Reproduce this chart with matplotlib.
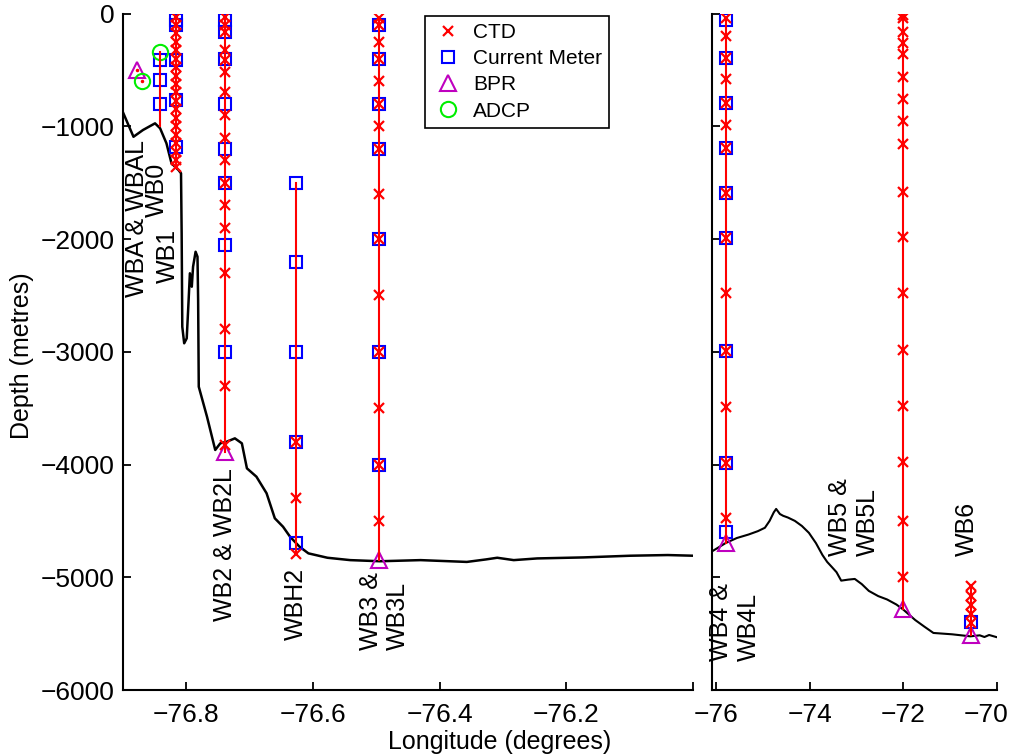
import numpy as np
import matplotlib.pyplot as plt
from matplotlib.transforms import ScaledTranslation

plt.rcParams['font.family'] = ['Liberation Sans', 'DejaVu Sans']

# bathymetry, western panel (longitude, depth in m)
bath_w_lon = [-76.900, -76.883, -76.868, -76.849, -76.841, -76.831, -76.823, -76.812,
              -76.808, -76.807, -76.806, -76.803, -76.799, -76.796, -76.794, -76.791,
              -76.789, -76.785, -76.782, -76.781, -76.780, -76.767, -76.754, -76.746,
              -76.736, -76.723, -76.712, -76.704, -76.689, -76.673, -76.660, -76.647,
              -76.636, -76.621, -76.607, -76.577, -76.541, -76.494, -76.430, -76.357,
              -76.327, -76.309, -76.283, -76.246, -76.173, -76.099, -76.040, -76.000]
bath_w_dep = [-871, -1093, -1033, -974, -1018, -1151, -1329, -1388,
              -1417, -1949, -2778, -2925, -2881, -2541, -2304, -2423,
              -2246, -2113, -2157, -2541, -3310, -3576, -3871, -3812,
              -3798, -3768, -3812, -4034, -4108, -4255, -4477, -4552,
              -4640, -4729, -4788, -4827, -4848, -4858, -4848, -4864,
              -4842, -4827, -4848, -4833, -4824, -4809, -4803, -4809]

# bathymetry, eastern panel
bath_e_lon = [-76.10, -75.80, -75.56, -75.31, -75.11, -74.96, -74.86, -74.77, -74.72,
              -74.64, -74.57, -74.47, -74.32, -74.17, -74.02, -73.87, -73.73, -73.63,
              -73.53, -73.43, -73.33, -73.18, -73.04, -72.89, -72.74, -72.54, -72.35,
              -72.15, -72.00, -71.75, -71.55, -71.36, -70.96, -70.57, -70.37, -70.27,
              -70.17, -70.02]
bath_e_dep = [-4773, -4697, -4652, -4621, -4591, -4561, -4500, -4424, -4394,
              -4439, -4455, -4470, -4500, -4545, -4606, -4697, -4803, -4864,
              -4909, -4955, -5030, -5021, -5015, -5061, -5121, -5167, -5197,
              -5242, -5288, -5379, -5439, -5494, -5506, -5524, -5515, -5530,
              -5512, -5530]

# moorings
wba_lon, wba_bpr = -76.878, [-500]
wbal_lon, wbal_adcp = -76.869, [-600]

wb0_lon = -76.841
wb0_cm = [-410, -590, -800]
wb0_adcp = [-345]
wb0_anchor = -1000

wb1_lon = -76.816
wb1_ctd = [-30, -100, -175, -250, -325, -400, -475, -550, -625, -700, -775, -850,
           -925, -1000, -1075, -1150, -1225, -1300, -1360]
wb1_cm = [-60, -100, -410, -770, -1180]

wb2_lon = -76.739
wb2_ctd = [-30, -100, -160, -320, -410, -520, -700, -900, -1100, -1300, -1500,
           -1700, -1900, -2300, -2800, -3300, -3830]
wb2_cm = [-60, -160, -400, -800, -1200, -1500, -2050, -3000]
wb2_bpr = [-3890]

wbh2_lon = -76.626
wbh2_ctd = [-3800, -4300, -4790]
wbh2_cm = [-1500, -2200, -3000, -3800, -4700]

wb3_lon = -76.495
wb3_ctd = [-40, -100, -250, -400, -600, -800, -1000, -1200, -1600, -2000, -2500,
           -3000, -3500, -4000, -4500]
wb3_cm = [-100, -400, -800, -1200, -2000, -3000, -4000]
wb3_bpr = [-4850]

wb4_lon = -75.80
wb4_ctd = [-40, -200, -390, -580, -790, -990, -1190, -1590, -1990, -2480, -2990,
           -3490, -3990, -4470]
wb4_cm = [-60, -390, -790, -1190, -1590, -1990, -2990, -3990, -4600]
wb4_bpr = [-4700]

wb5_lon = -72.00
wb5_ctd = [-10, -40, -160, -260, -360, -560, -760, -950, -1160, -1580, -1980,
           -2480, -2980, -3480, -3980, -4500, -5000]
wb5_bpr = [-5280]

wb6_lon = -70.55
wb6_ctd = [-5080, -5170, -5250, -5330, -5410]
wb6_cm = [-5400]
wb6_bpr = [-5510]


def mooring(ax, lon, ctd=(), cm=(), bpr=(), adcp=(), anchor=None):
    deps = list(ctd) + list(cm) + list(bpr) + list(adcp)
    bottom = min(deps) if anchor is None else anchor
    if len(cm):
        ax.plot([lon] * len(cm), cm, 's', mec='b', mfc='none', ms=9, mew=1.5, zorder=2)
    if len(bpr):
        ax.plot([lon] * len(bpr), bpr, '^', mec='m', mfc='none', ms=12, mew=1.5, zorder=3)
    if len(adcp):
        ax.plot([lon] * len(adcp), adcp, 'o', mec='#00ee00', mfc='none', ms=11, mew=1.5, zorder=3)
    if max(deps) > bottom:
        ax.plot([lon, lon], [max(deps), bottom], 'r-', lw=1.5, zorder=4)
    else:
        ax.plot([lon], deps, 'r.', ms=3, zorder=4)
    if len(ctd):
        ax.plot([lon] * len(ctd), ctd, 'rx', ms=7, mew=1.6, zorder=5)


fig = plt.figure(figsize=(10.1, 7.56), dpi=100)
ax1 = fig.add_axes([0.1215, 0.0873, 0.5647, 0.8948])
ax2 = fig.add_axes([0.7045, 0.0873, 0.2827, 0.8948])

ax1.plot(bath_w_lon, bath_w_dep, 'k-', lw=1.8, zorder=1)
ax2.plot(bath_e_lon, bath_e_dep, 'k-', lw=1.5, zorder=1)

mooring(ax1, wba_lon, bpr=wba_bpr)
mooring(ax1, wbal_lon, adcp=wbal_adcp)
mooring(ax1, wb0_lon, cm=wb0_cm, adcp=wb0_adcp, anchor=wb0_anchor)
mooring(ax1, wb1_lon, ctd=wb1_ctd, cm=wb1_cm)
mooring(ax1, wb2_lon, ctd=wb2_ctd, cm=wb2_cm, bpr=wb2_bpr)
mooring(ax1, wbh2_lon, ctd=wbh2_ctd, cm=wbh2_cm)
mooring(ax1, wb3_lon, ctd=wb3_ctd, cm=wb3_cm, bpr=wb3_bpr)
mooring(ax2, wb4_lon, ctd=wb4_ctd, cm=wb4_cm, bpr=wb4_bpr)
mooring(ax2, wb5_lon, ctd=wb5_ctd, bpr=wb5_bpr)
mooring(ax2, wb6_lon, ctd=wb6_ctd, cm=wb6_cm, bpr=wb6_bpr)

lab = dict(rotation=90, ha='center', va='bottom', fontsize=18, multialignment='left')
ax1.text(-76.877, -2514, 'WBA & WBAL', **lab)
ax1.text(-76.846, -1805, 'WB0', **lab)
ax1.text(-76.829, -2390, 'WB1', **lab)
ax1.text(wb2_lon, -5384, 'WB2 & WB2L', **lab)
ax1.text(wbh2_lon, -5556, 'WBH2', **lab)
ax1.text(-76.487, -5645, 'WB3 &\nWB3L', **lab)
ax2.text(-75.60, -5740, 'WB4 &\nWB4L', **lab)
ax2.text(-73.05, -4810, 'WB5 &\nWB5L', **lab)
ax2.text(-70.64, -4810, 'WB6', **lab)

# legend
h_ctd, = ax1.plot([], [], 'rx', ms=7, mew=1.6, label='CTD')
h_cm, = ax1.plot([], [], 's', mec='b', mfc='none', ms=9, mew=1.5, label='Current Meter')
h_bpr, = ax1.plot([], [], '^', mec='m', mfc='none', ms=12, mew=1.5, label='BPR')
h_adcp, = ax1.plot([], [], 'o', mec='#00ee00', mfc='none', ms=11, mew=1.5, label='ADCP')
leg = ax1.legend(handles=[h_ctd, h_cm, h_bpr, h_adcp], loc='upper left',
                 bbox_to_anchor=(0.53, 0.997), fontsize=15,
                 fancybox=False, edgecolor='k', framealpha=1, borderpad=0.35,
                 labelspacing=0.35, handlelength=1.5, handletextpad=0.45, borderaxespad=0)
leg.get_frame().set_linewidth(1.2)

for ax in (ax1, ax2):
    ax.set_ylim(-6000, 0)
    ax.set_yticks(np.arange(-6000, 1, 1000))
    for s in ('top', 'right'):
        ax.spines[s].set_visible(False)
    for s in ('left', 'bottom'):
        ax.spines[s].set_linewidth(1.5)
    ax.tick_params(direction='in', length=6, width=1.3, labelsize=19)
    ax.tick_params(axis='x', pad=9)

ax1.set_xlim(-76.9, -76.0)
ax1.set_xticks([-76.8, -76.6, -76.4, -76.2, -76.0])
ax1.set_xticklabels(['\u221276.8', '\u221276.6', '\u221276.4', '\u221276.2', ''])
ax1.tick_params(axis='y', pad=6)

ax2.set_xlim(-76.1, -70)
ax2.set_xticks([-76, -74, -72, -70])
ax2.set_xticklabels(['\u221276', '\u221274', '\u221272', '\u221270'])
ax2.set_yticklabels([])
# keep the last label inside the figure
last = ax2.get_xticklabels()[-1]
last.set_transform(last.get_transform() + ScaledTranslation(-0.11, 0, fig.dpi_scale_trans))

fig.text(0.022, 0.53, 'Depth (metres)', rotation=90, ha='center', va='center', fontsize=18)
fig.text(0.495, 0.0185, 'Longitude (degrees)', ha='center', va='center', fontsize=18)

fig.savefig('out.png', dpi=100)
